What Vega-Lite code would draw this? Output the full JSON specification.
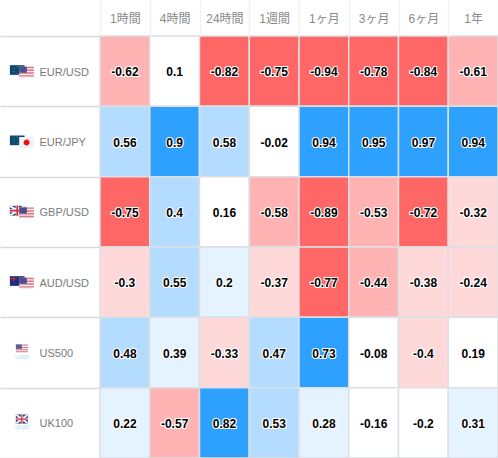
{
"$schema":"https://vega.github.io/schema/vega-lite/v6.json",
"width":398,"height":422,
"autosize":{"type":"none"},
"padding":{"left":100,"top":36,"right":0,"bottom":0},
"background":"white",
"config":{"view":{"stroke":null}},
"datasets":{
"cells":[
{"row":"EUR/USD","period":"1時間","value":-0.62},{"row":"EUR/USD","period":"4時間","value":0.1},{"row":"EUR/USD","period":"24時間","value":-0.82},{"row":"EUR/USD","period":"1週間","value":-0.75},{"row":"EUR/USD","period":"1ヶ月","value":-0.94},{"row":"EUR/USD","period":"3ヶ月","value":-0.78},{"row":"EUR/USD","period":"6ヶ月","value":-0.84},{"row":"EUR/USD","period":"1年","value":-0.61},
{"row":"EUR/JPY","period":"1時間","value":0.56},{"row":"EUR/JPY","period":"4時間","value":0.9},{"row":"EUR/JPY","period":"24時間","value":0.58},{"row":"EUR/JPY","period":"1週間","value":-0.02},{"row":"EUR/JPY","period":"1ヶ月","value":0.94},{"row":"EUR/JPY","period":"3ヶ月","value":0.95},{"row":"EUR/JPY","period":"6ヶ月","value":0.97},{"row":"EUR/JPY","period":"1年","value":0.94},
{"row":"GBP/USD","period":"1時間","value":-0.75},{"row":"GBP/USD","period":"4時間","value":0.4},{"row":"GBP/USD","period":"24時間","value":0.16},{"row":"GBP/USD","period":"1週間","value":-0.58},{"row":"GBP/USD","period":"1ヶ月","value":-0.89},{"row":"GBP/USD","period":"3ヶ月","value":-0.53},{"row":"GBP/USD","period":"6ヶ月","value":-0.72},{"row":"GBP/USD","period":"1年","value":-0.32},
{"row":"AUD/USD","period":"1時間","value":-0.3},{"row":"AUD/USD","period":"4時間","value":0.55},{"row":"AUD/USD","period":"24時間","value":0.2},{"row":"AUD/USD","period":"1週間","value":-0.37},{"row":"AUD/USD","period":"1ヶ月","value":-0.77},{"row":"AUD/USD","period":"3ヶ月","value":-0.44},{"row":"AUD/USD","period":"6ヶ月","value":-0.38},{"row":"AUD/USD","period":"1年","value":-0.24},
{"row":"US500","period":"1時間","value":0.48},{"row":"US500","period":"4時間","value":0.39},{"row":"US500","period":"24時間","value":-0.33},{"row":"US500","period":"1週間","value":0.47},{"row":"US500","period":"1ヶ月","value":0.73},{"row":"US500","period":"3ヶ月","value":-0.08},{"row":"US500","period":"6ヶ月","value":-0.4},{"row":"US500","period":"1年","value":0.19},
{"row":"UK100","period":"1時間","value":0.22},{"row":"UK100","period":"4時間","value":-0.57},{"row":"UK100","period":"24時間","value":0.82},{"row":"UK100","period":"1週間","value":0.53},{"row":"UK100","period":"1ヶ月","value":0.28},{"row":"UK100","period":"3ヶ月","value":-0.16},{"row":"UK100","period":"6ヶ月","value":-0.2},{"row":"UK100","period":"1年","value":0.31}
],
"flags":[
{"row":"EUR/USD","part":"eu-bg"},{"row":"EUR/USD","part":"eu-star"},{"row":"EUR/USD","part":"us-bg"},{"row":"EUR/USD","part":"us-red"},{"row":"EUR/USD","part":"us-can"},
{"row":"EUR/JPY","part":"eu-bg"},{"row":"EUR/JPY","part":"eu-star"},{"row":"EUR/JPY","part":"jp-bg"},{"row":"EUR/JPY","part":"jp-dot"},
{"row":"GBP/USD","part":"uk-bg"},{"row":"GBP/USD","part":"uk-white"},{"row":"GBP/USD","part":"uk-red"},{"row":"GBP/USD","part":"us-bg"},{"row":"GBP/USD","part":"us-red"},{"row":"GBP/USD","part":"us-can"},
{"row":"AUD/USD","part":"uk-bg"},{"row":"AUD/USD","part":"au-red"},{"row":"AUD/USD","part":"us-bg"},{"row":"AUD/USD","part":"us-red"},{"row":"AUD/USD","part":"us-can"},
{"row":"US500","part":"iu-bg"},{"row":"US500","part":"iu-red"},{"row":"US500","part":"iu-can"},
{"row":"UK100","part":"ik-bg"},{"row":"UK100","part":"ik-white"},{"row":"UK100","part":"ik-red"}
],
"tags":[{"row":"US500","tag":"US500"},{"row":"UK100","tag":"UK100"}]
},
"data":{"name":"cells"},
"encoding":{
"x":{"field":"period","type":"nominal","sort":["1時間","4時間","24時間","1週間","1ヶ月","3ヶ月","6ヶ月","1年"],
"scale":{"paddingInner":0,"paddingOuter":0},
"axis":{"orient":"top","title":null,"domain":false,"labelAngle":0,"tickBand":"extent","tickSize":36,"tickColor":"#f0f1f3","tickWidth":1.5,"labelPadding":-18,"labelBaseline":"middle","labelFontSize":12,"labelColor":"#8a8a8a","labelFont":"Liberation Sans, Noto Sans CJK JP"}},
"y":{"field":"row","type":"nominal","sort":["EUR/USD","EUR/JPY","GBP/USD","AUD/USD","US500","UK100"],
"scale":{"paddingInner":0,"paddingOuter":0},
"axis":{"title":null,"domain":false,"tickBand":"extent","tickSize":100,"tickColor":"#d9d9d9","tickWidth":1.5,"labelPadding":-39,"labelAlign":"left","labelOffset":1,"labelFontSize":11,"labelColor":"#7a7a7a","labelFont":"Liberation Sans"}}
},
"layer":[
{"mark":{"type":"rect","stroke":"#dcdfe3","strokeWidth":1.5},
"encoding":{"color":{"field":"value","type":"quantitative","legend":null,
"scale":{"type":"threshold","domain":[-0.7,-0.4,-0.2,0.2,0.4,0.7],"range":["#ff6666","#ffb3b3","#ffd9d9","#ffffff","#e5f2ff","#b3dcff","#2ea1ff"]}}}},
{"mark":{"type":"text","font":"Liberation Sans","fontSize":12,"fontWeight":"bold","stroke":"white","strokeWidth":2.2,"strokeJoin":"round","fill":"white","dy":1},
"encoding":{"text":{"field":"value","type":"nominal"}}},
{"mark":{"type":"text","font":"Liberation Sans","fontSize":12,"fontWeight":"bold","fill":"black","dy":1},
"encoding":{"text":{"field":"value","type":"nominal"}}},
{"data":{"name":"flags"},
"mark":{"type":"point","filled":true,"size":4,"opacity":1,"strokeWidth":0},
"encoding":{
"x":{"datum":"1時間"},
"color":{"field":"part","type":"nominal","legend":null,"scale":{
"domain":["eu-bg","eu-star","us-bg","us-red","us-can","jp-bg","jp-dot","uk-bg","uk-white","uk-red","au-red","iu-bg","iu-red","iu-can","ik-bg","ik-white","ik-red"],
"range":["#0b4a75","#6f8f5a","#f4eeee","#dd7583","#4b4f8f","#f2f2f2","#ee1111","#1c2f7a","#f2f2f2","#d8283c","#d8283c","#f4eeee","#dd7583","#5a5f9a","#1c2f7a","#f2f2f2","#d8283c"]}},
"shape":{"field":"part","type":"nominal","legend":null,"scale":{
"domain":["eu-bg","eu-star","us-bg","us-red","us-can","jp-bg","jp-dot","uk-bg","uk-white","uk-red","au-red","iu-bg","iu-red","iu-can","ik-bg","ik-white","ik-red"],
"range":[
"M-115,-6H-100.3V3.7H-115Z",
"M-108,-5H-107V-4H-108ZM-105,-3H-104V-2H-105ZM-104.5,0H-103.5V1H-104.5ZM-111,-3H-110V-2H-111ZM-111.5,0H-110.5V1H-111.5ZM-108,1.8H-107V2.6H-108Z",
"M-105.7,-4.4H-91V7H-105.7Z",
"M-105.7,-4.4H-91V-3H-105.7ZM-105.7,-1.6H-91V-0.2H-105.7ZM-105.7,1.2H-91V2.6H-105.7ZM-105.7,4H-91V5.4H-105.7Z",
"M-105.7,-4.4H-98V1.6H-105.7Z",
"M-105.7,-4.5H-91V6.5H-105.7Z",
"M-101.3,1A3,3 0 1 1 -95.3,1A3,3 0 1 1 -101.3,1Z",
"M-115,-6H-100.3V3.7H-115Z",
"M-115,-6H-113L-100.3,2.4V3.7H-102.3L-115,-4.7ZM-100.3,-6V-4.7L-113,3.7H-115V2.4L-102.3,-6ZM-109.3,-6H-106V3.7H-109.3ZM-115,-2.8H-100.3V0.5H-115Z",
"M-108.5,-6H-106.8V3.7H-108.5ZM-115,-2H-100.3V-0.3H-115Z",
"M-112,-6H-111V-1H-112ZM-115,-4H-108V-3H-115Z",
"M-109,-8H-97V-0.3H-109Z",
"M-109,-8H-97V-7H-109ZM-109,-5.6H-97V-4.6H-109ZM-109,-3.2H-97V-2.2H-109ZM-109,-1.2H-97V-0.3H-109Z",
"M-109,-8H-103V-3.6H-109Z",
"M-109,-8.3H-97V0.7H-109Z",
"M-109,-8.3H-107.5L-97,-0.5V0.7H-98.5L-109,-7.1ZM-97,-8.3V-7.1L-107.5,0.7H-109V-0.5L-98.5,-8.3ZM-104.2,-8.3H-101.8V0.7H-104.2ZM-109,-5H-97V-2.6H-109Z",
"M-103.6,-8.3H-102.4V0.7H-103.6ZM-109,-4.4H-97V-3.2H-109Z"
]}}
}},
{"data":{"name":"tags"},
"mark":{"type":"text","font":"Liberation Sans","fontSize":4.5,"fill":"#9adff5","xOffset":-103,"yOffset":5},
"encoding":{"x":{"datum":"1時間"},"text":{"field":"tag","type":"nominal"}}}
],
"resolve":{"scale":{"color":"independent"}}
}
